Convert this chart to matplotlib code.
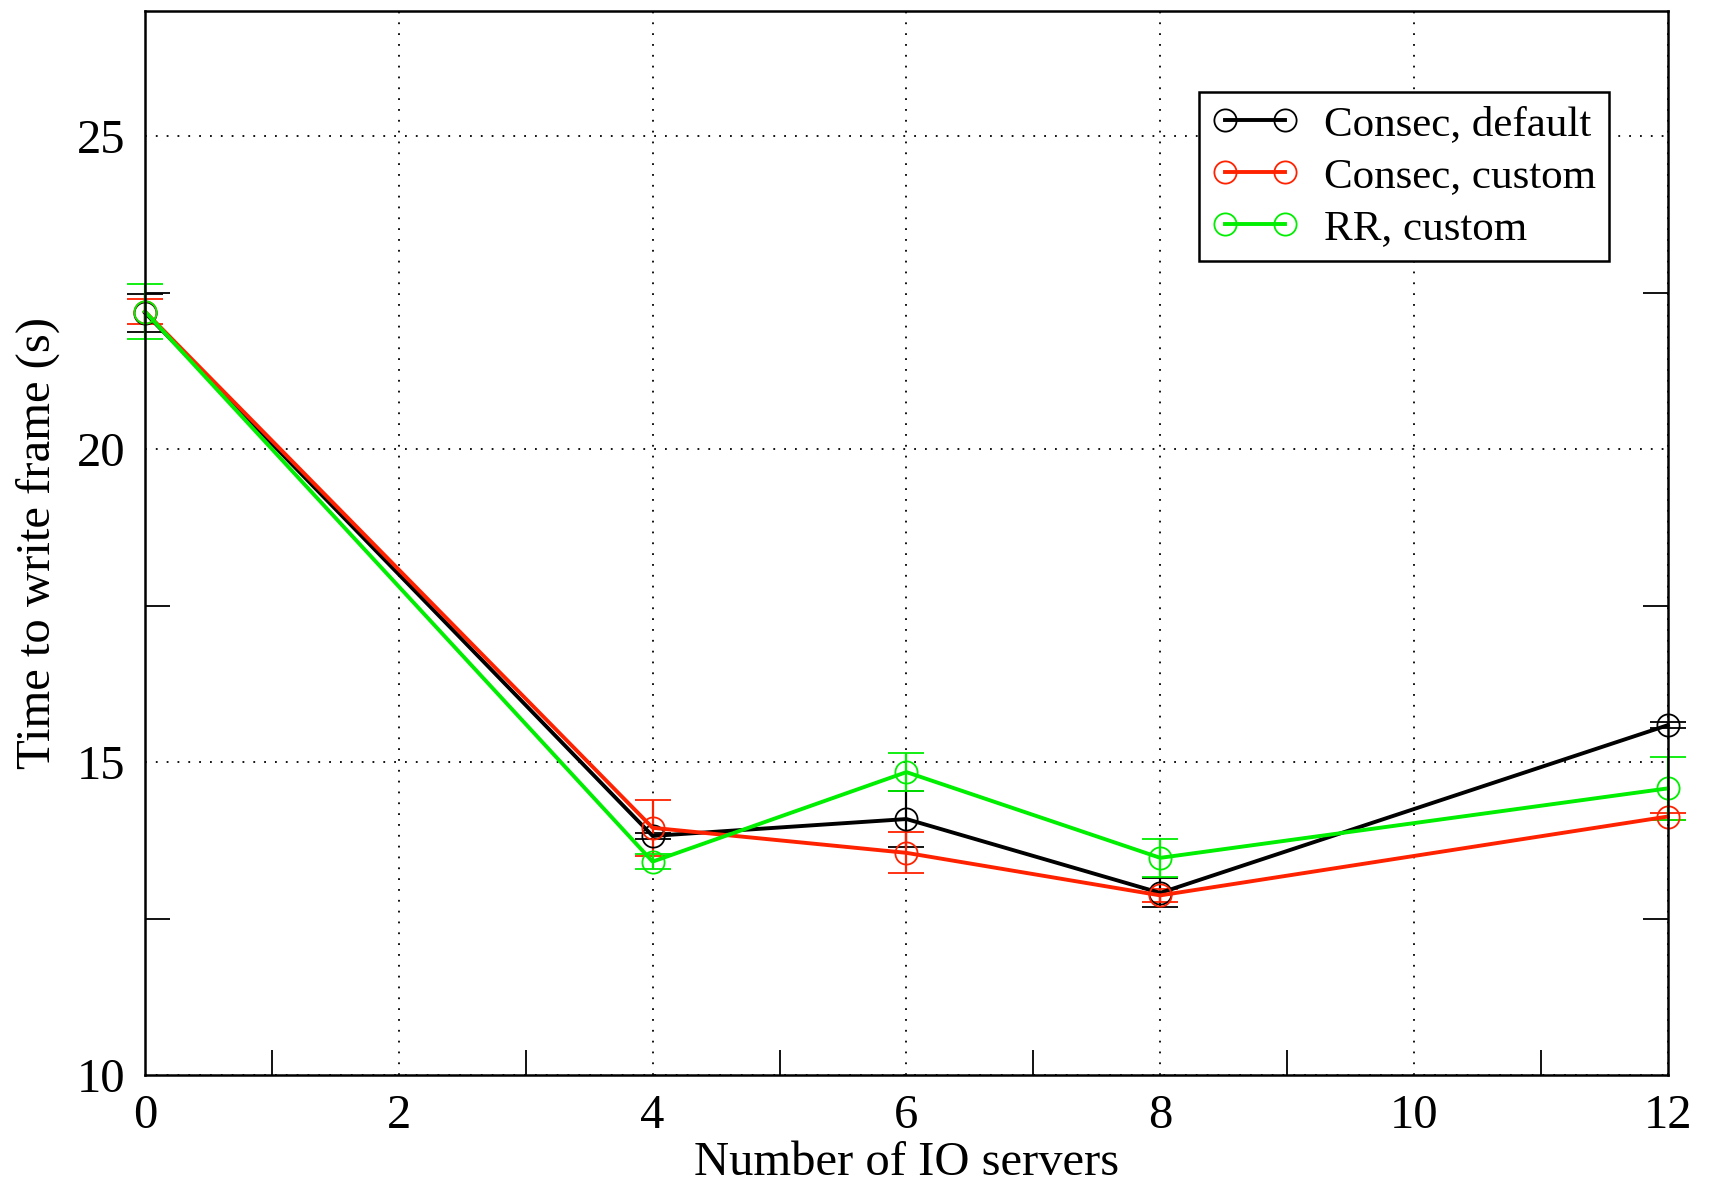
import numpy as np
import matplotlib.pyplot as plt
from matplotlib.lines import Line2D
from matplotlib.ticker import MultipleLocator, FixedLocator

plt.rcParams['font.family'] = ['Liberation Serif', 'DejaVu Serif']

# Data
servers = [0, 4, 6, 8, 12]
consec_default = [22.18, 13.82, 14.09, 12.91, 15.59]
consec_default_err = [0.30, 0.05, 0.45, 0.23, 0.05]
consec_custom = [22.20, 13.95, 13.55, 12.87, 14.13]
consec_custom_err = [0.20, 0.45, 0.33, 0.10, 0.05]
rr_custom = [22.20, 13.41, 14.84, 13.47, 14.58]
rr_custom_err = [0.44, 0.12, 0.30, 0.30, 0.50]

series = [
    ("Consec, default", consec_default, consec_default_err, "black"),
    ("Consec, custom", consec_custom, consec_custom_err, "#ff2200"),
    ("RR, custom", rr_custom, rr_custom_err, "#00ee00"),
]

fig = plt.figure(figsize=(17.12, 11.86), dpi=100)
ax = fig.add_axes([0.0847, 0.0936, 0.8895, 0.897])

handles = []
for label, y, err, col in series:
    ax.errorbar(servers, y, yerr=err, color=col, lw=2.8, marker="o", ms=16,
                mfc="none", mec=col, mew=1.3, elinewidth=1.6, capsize=13,
                capthick=1.6, clip_on=False)
    handles.append(Line2D([], [], color=col, lw=2.8, marker="o", ms=16,
                          mfc="none", mec=col, mew=1.3, label=label))

ax.set_xlim(0, 12)
ax.set_ylim(10, 27)
ax.xaxis.set_major_locator(MultipleLocator(2))
ax.xaxis.set_minor_locator(FixedLocator([1, 3, 5, 7, 9, 11]))
ax.yaxis.set_major_locator(FixedLocator([10, 15, 20, 25]))
ax.yaxis.set_minor_locator(FixedLocator([12.5, 17.5, 22.5]))

ax.grid(True, which="major", linestyle=(0, (1, 5)), color="black", lw=1.3)
ax.tick_params(which="major", length=0, labelsize=35, pad=14)
ax.tick_params(which="minor", length=18, width=1.3, direction="in",
               top=False, right=True)
for s in ax.spines.values():
    s.set_linewidth(1.8)

ax.set_xlabel("Number of IO servers", fontsize=35, labelpad=2)
ax.set_ylabel("Time to write frame (s)", fontsize=35, labelpad=12)

leg = ax.legend(handles=handles, loc="upper right", bbox_to_anchor=(0.9755, 0.944),
                fontsize=31, numpoints=2, fancybox=False, framealpha=1,
                edgecolor="black", handlelength=2.0, handletextpad=0.6,
                borderpad=0.3, labelspacing=0.3)
leg.get_frame().set_linewidth(1.8)

fig.savefig("out.png", dpi=100)
